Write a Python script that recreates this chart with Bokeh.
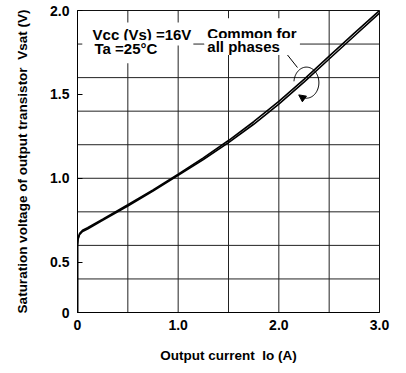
import numpy as np
from bokeh.plotting import figure
from bokeh.models import FixedTicker, Label, Arrow, NormalHead, Range1d, Span
from bokeh.embed import file_html
from bokeh.resources import INLINE

# ---- data ----
current_a = [0, 0, 0.005, 0.02, 0.05, 0.1, 0.25, 0.5, 0.75, 1.0, 1.25, 1.5, 1.75, 2.0, 2.25, 2.5, 2.75, 3.0]
vsat_phase1 = [0, 0.6, 0.64, 0.67, 0.69, 0.705, 0.756, 0.842, 0.931, 1.025, 1.122, 1.225, 1.337, 1.458, 1.59, 1.728, 1.865, 2.0]
vsat_phase2 = [0, 0.6, 0.635, 0.663, 0.683, 0.698, 0.749, 0.835, 0.924, 1.018, 1.112, 1.212, 1.322, 1.442, 1.573, 1.711, 1.848, 1.985]

x_tick_vals = [0, 1.0, 2.0, 3.0]
x_tick_labels = ["0", "1.0", "2.0", "3.0"]
x_grid_vals = [0, 0.5, 1.0, 1.5, 2.0, 2.5, 3.0]
y_tick_vals = [0, 0.5, 1.0, 1.5, 2.0]
y_tick_labels = ["0", "0.5", "1.0", "1.5", "2.0"]
y_grid_divisions = list(range(10))


# broken (two-scale) vertical axis: 0-0.5 V compressed, above 0.5 V 0.2 V per grid division
def to_grid(v):
    return v * 3.0 if v <= 0.5 else 1.5 + (v - 0.5) * 5.0


FONT = "Liberation Sans"

p = figure(width=406, height=373, output_backend="svg", toolbar_location=None,
           x_range=Range1d(0, 3), y_range=Range1d(0, 9),
           min_border_left=77, min_border_right=27, min_border_top=10, min_border_bottom=61)
p.background_fill_color = "white"
p.border_fill_color = "white"
p.outline_line_color = "black"
p.outline_line_width = 1
p.outline_line_alpha = 1
p.grid.visible = False

# grid lines
for gx in x_grid_vals:
    p.add_layout(Span(location=gx, dimension="height", line_color="#222222",
                      line_width=1, level="underlay"))
for gy in y_grid_divisions:
    p.add_layout(Span(location=gy, dimension="width", line_color="#222222",
                      line_width=1, level="underlay"))

# axes
p.xaxis.ticker = FixedTicker(ticks=x_tick_vals)
p.xaxis.major_label_overrides = {v: s for v, s in zip(x_tick_vals, x_tick_labels)}
y_ticks_grid = [to_grid(v) for v in y_tick_vals]
p.yaxis.ticker = FixedTicker(ticks=y_ticks_grid)
p.yaxis.major_label_overrides = {v: s for v, s in zip(y_ticks_grid, y_tick_labels)}

for ax in (p.xaxis[0], p.yaxis[0]):
    ax.axis_line_color = "black"
    ax.axis_line_width = 1
    ax.major_tick_line_color = "black"
    ax.minor_tick_line_color = None
    ax.major_tick_out = 0
    ax.major_label_text_font = FONT
    ax.major_label_text_font_style = "bold"
    ax.major_label_text_font_size = "14px"
    ax.major_label_text_color = "black"
    ax.axis_label_text_font = FONT
    ax.axis_label_text_font_style = "bold"
    ax.axis_label_text_font_size = "13.5px"
    ax.axis_label_text_color = "black"

p.xaxis.major_tick_in = 0
p.yaxis.major_tick_in = 5
p.xaxis.major_label_standoff = 7
p.yaxis.major_label_standoff = 8
p.xaxis.axis_label = "Output current\u00a0 Io (A)"
p.xaxis.axis_label_standoff = 15
p.yaxis.axis_label = "Saturation voltage of output transistor\u00a0 Vsat (V)"
p.yaxis.axis_label_standoff = 17

# curves
p.line(current_a, [to_grid(v) for v in vsat_phase1], line_color="black", line_width=1.6)
p.line(current_a, [to_grid(v) for v in vsat_phase2], line_color="black", line_width=1.6)

# text boxes with white background masking the grid
lab = dict(text_font=FONT, text_font_style="bold", text_font_size="15px", text_color="black",
           background_fill_color="white", text_baseline="alphabetic", text_align="left")
p.add_layout(Label(x=0.05, y=8.3, text="Vcc (Vs) =16V",
                   padding=dict(left=10, right=2, top=4, bottom=2), **lab))
p.add_layout(Label(x=0.05, y=7.77, text="Ta =25\u00b0C",
                   padding=dict(left=12, right=2, top=0, bottom=6), **lab))
p.add_layout(Label(x=1.26, y=8.38, text="Common for",
                   padding=dict(left=3, right=3, top=7, bottom=2), **lab))
p.add_layout(Label(x=1.26, y=7.93, text="all phases",
                   padding=dict(left=3, right=20, top=0, bottom=0), **lab))

# leader line
p.line([1.29, 2.066, 2.185], [7.75, 7.75, 7.30], line_color="black", line_width=1)

# curl around the curves
cx, cu, rx, ru = 2.274, 6.85, 0.124, 0.463
t = np.radians(np.linspace(175, -122, 80))
p.line(cx + rx * np.cos(t), cu + ru * np.sin(t), line_color="black", line_width=1)
t1, t2 = np.radians(-112), np.radians(-128)
p.add_layout(Arrow(end=NormalHead(size=7, fill_color="black", line_color="black"),
                   x_start=cx + rx * np.cos(t1), y_start=cu + ru * np.sin(t1),
                   x_end=cx + rx * np.cos(t2), y_end=cu + ru * np.sin(t2),
                   line_color="black", line_width=1))

open("out.html", "w").write(file_html(p, INLINE))
